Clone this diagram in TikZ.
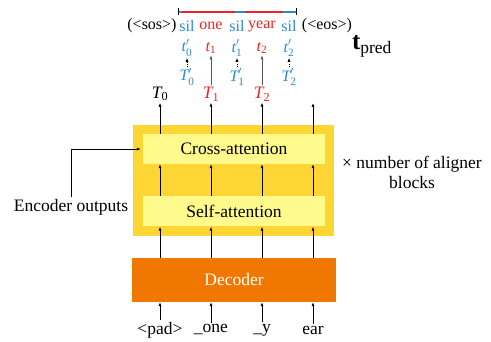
\documentclass[tikz,border=0pt]{standalone}
\usepackage{amsmath}
\usepackage{fontspec}
\setmainfont{Liberation Serif}
\usetikzlibrary{arrows.meta,positioning,calc}

\definecolor{blockgold}{RGB}{253,214,51}
\definecolor{lightyellow}{RGB}{255,250,140}
\definecolor{decorange}{RGB}{240,120,0}
\definecolor{silblue}{RGB}{40,140,210}
\definecolor{wordred}{RGB}{235,35,35}

\begin{document}
\begin{tikzpicture}[
            x=1pt, y=-1pt,
            font=\fontsize{17.5}{20}\selectfont,
            outer/.style={rectangle, fill=blockgold, minimum width=201pt, minimum height=111pt, inner sep=0pt},
            layer/.style={rectangle, fill=lightyellow, minimum width=182pt, minimum height=30pt, inner sep=0pt},
            decoder/.style={rectangle, fill=decorange, text=white, minimum width=204pt, minimum height=44pt, inner sep=0pt},
            word/.style={inner sep=1.5pt},
            small/.style={inner sep=0pt, outer sep=1.5pt, font=\fontsize{16}{18}\selectfont},
            arrow/.style={-{Latex[length=4pt,width=3pt]}, line width=0.7pt},
            gray arrow/.style={arrow, draw=black!65},
            dot arrow/.style={arrow, dotted}
        ]
        \useasboundingbox (0,0) rectangle (491,342);

        % Blocks
        \node (aligner) [outer] at (233.5,180.5) {};
        \node (cross) [layer] at (234,149) {Cross-attention};
        \node (self) [layer] at (234,211.5) {Self-attention};
        \node (dec) [decoder] at (234,280) {Decoder};

        % Inputs
        \node (in1) [word] at (160,330) {<pad>};
        \node (in2) [word] at (211,330) {\_one};
        \node (in3) [word] at (262,330) {\_y};
        \node (in4) [word] at (313,330) {ear};

        % Outputs
        \node (T0) [word] at (160,94) {$\textit{T}_{\text{0}}$};
        \node (T1) [word, text=wordred] at (211,94) {$\textit{T}_{\text{1}}$};
        \node (T2) [word, text=wordred] at (262,94) {$\textit{T}_{\text{2}}$};
        \coordinate (T3) at (313,103);

        \node (Tp0) [small, text=silblue] at (187,77) {$\textit{T}'_{\text{0}}$};
        \node (Tp1) [small, text=silblue] at (237,77) {$\textit{T}'_{\text{1}}$};
        \node (Tp2) [small, text=silblue] at (289,77) {$\textit{T}'_{\text{2}}$};

        \node (tp0) [small, text=silblue] at (187,48) {$\textit{t}'_{\text{0}}$};
        \node (t1) [small, text=wordred] at (211,48) {$\textit{t}_{\text{1}}$};
        \node (tp1) [small, text=silblue] at (237,48) {$\textit{t}'_{\text{1}}$};
        \node (t2) [small, text=wordred] at (262,48) {$\textit{t}_{\text{2}}$};
        \node (tp2) [small, text=silblue] at (289,48) {$\textit{t}'_{\text{2}}$};
        \node (tpred) [word, font=\fontsize{25}{28}\selectfont] at (372,46) {$\textbf{t}_{\text{pred}}$};

        % Sequence
        \node (sos) [small] at (152,26) {(<sos>)};
        \node (sil0) [small, text=silblue] at (187,26) {sil};
        \node (one) [small, text=wordred] at (211,26) {one};
        \node (sil1) [small, text=silblue] at (237,26) {sil};
        \node (year) [small, text=wordred] at (262,26) {year};
        \node (sil2) [small, text=silblue] at (289,26) {sil};
        \node (eos) [small] at (327,26) {(<eos>)};

        % Segment bar
        \coordinate (barL) at (178,12);
        \coordinate (barR) at (296,12);
        \draw [silblue, line width=2.2pt] (barL) -- (barR);
        \draw [wordred, line width=2.2pt] (182,12) -- (235,12);
        \draw [wordred, line width=2.2pt] (245,12) -- (283,12);
        \draw [line width=0.7pt] ($(barL)+(0,-3.5)$) -- ($(barL)+(0,3.5)$);
        \draw [line width=0.7pt] ($(barR)+(0,-3.5)$) -- ($(barR)+(0,3.5)$);

        % Side texts
        \node (enc) [word] at (71,207) {Encoder outputs};
        \node (times) [word, align=center] at (412,172) {× number of aligner\\blocks};

        % Connections
        \foreach \c in {in1,in2,in3,in4} {
            \draw [arrow] (\c) -- (\c |- dec.south);
            \draw [arrow] (dec.north -| \c) -- (self.south -| \c);
            \draw [arrow] (self.north -| \c) -- (cross.south -| \c);
        }
        \draw [arrow] (cross.north -| in1) -- (T0);
        \draw [arrow] (cross.north -| in2) -- (T1);
        \draw [arrow] (cross.north -| in3) -- (T2);
        \draw [arrow] (cross.north -| in4) -- (T3);

        \draw [gray arrow] (T1) -- (t1);
        \draw [gray arrow] (T2) -- (t2);
        \draw [dot arrow] (Tp0) -- (tp0);
        \draw [dot arrow] (Tp1) -- (tp1);
        \draw [dot arrow] (Tp2) -- (tp2);

        \draw [arrow] (enc.north) |- ([xshift=-2pt]cross.west);

    \end{tikzpicture}
\end{document}
